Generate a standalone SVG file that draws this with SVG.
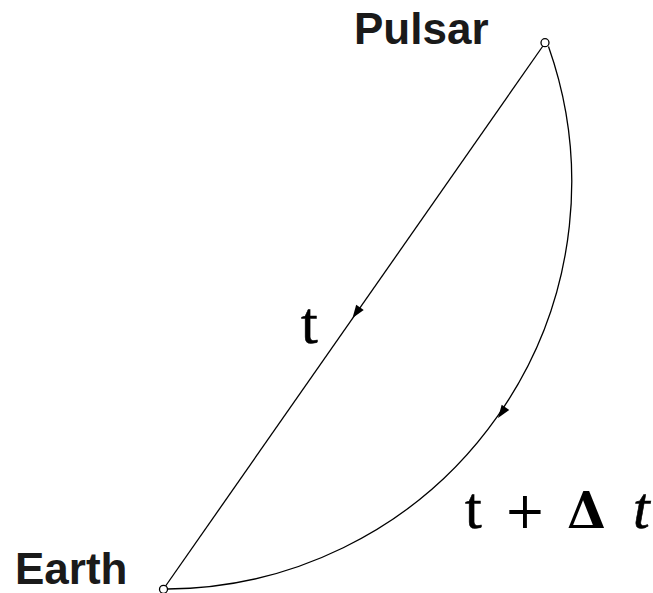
<svg xmlns="http://www.w3.org/2000/svg" xmlns:xlink="http://www.w3.org/1999/xlink" width="653" height="593" viewBox="0 0 653 593">
  <style>
    .edge { fill: none; stroke: #000; stroke-width: 1.3; }
    .node { fill: #fff; stroke: #000; stroke-width: 1.3; }
    .lbl { font-family: "Liberation Sans", Arial, sans-serif; font-weight: bold; font-size: 44px; fill: #1a1a1a; }
    .math { font-family: "Liberation Serif", "Times New Roman", serif; font-size: 60px; fill: #000; stroke: #000; stroke-width: 0.6; }
    .op { font-family: "DejaVu Serif", "Liberation Serif", serif; font-size: 50px; stroke: none; }
  </style>
  <defs>
    <path id="ah" d="M0,0 L-13,-4.6 L-13,4.6 Z" fill="#000"/>
  </defs>
  <g id="connectors">
    <line class="edge" x1="545" y1="43" x2="163.5" y2="589"/>
    <path class="edge" d="M548.5,46.5 A407,407 0 0 1 167.5,589"/>
    <use xlink:href="#ah" transform="translate(352.5,318) rotate(125)"/>
    <use xlink:href="#ah" transform="translate(498,418) rotate(125)"/>
  </g>
  <g id="pulsar">
    <circle class="node" cx="545" cy="42.7" r="4"/>
    <text class="lbl" x="354" y="44">Pulsar</text>
  </g>
  <g id="earth">
    <circle class="node" cx="163.5" cy="589.3" r="4"/>
    <text class="lbl" x="15" y="584">Earth</text>
  </g>
  <g id="label-t">
    <text class="math" x="301" y="343">t</text>
  </g>
  <g id="label-t-dt">
    <text class="math" y="528"><tspan x="465">t</tspan><tspan class="op" x="504" font-weight="300">+</tspan><tspan class="op" x="567" font-weight="bold">Δ</tspan><tspan x="633" font-style="italic">t</tspan></text>
  </g>
</svg>
